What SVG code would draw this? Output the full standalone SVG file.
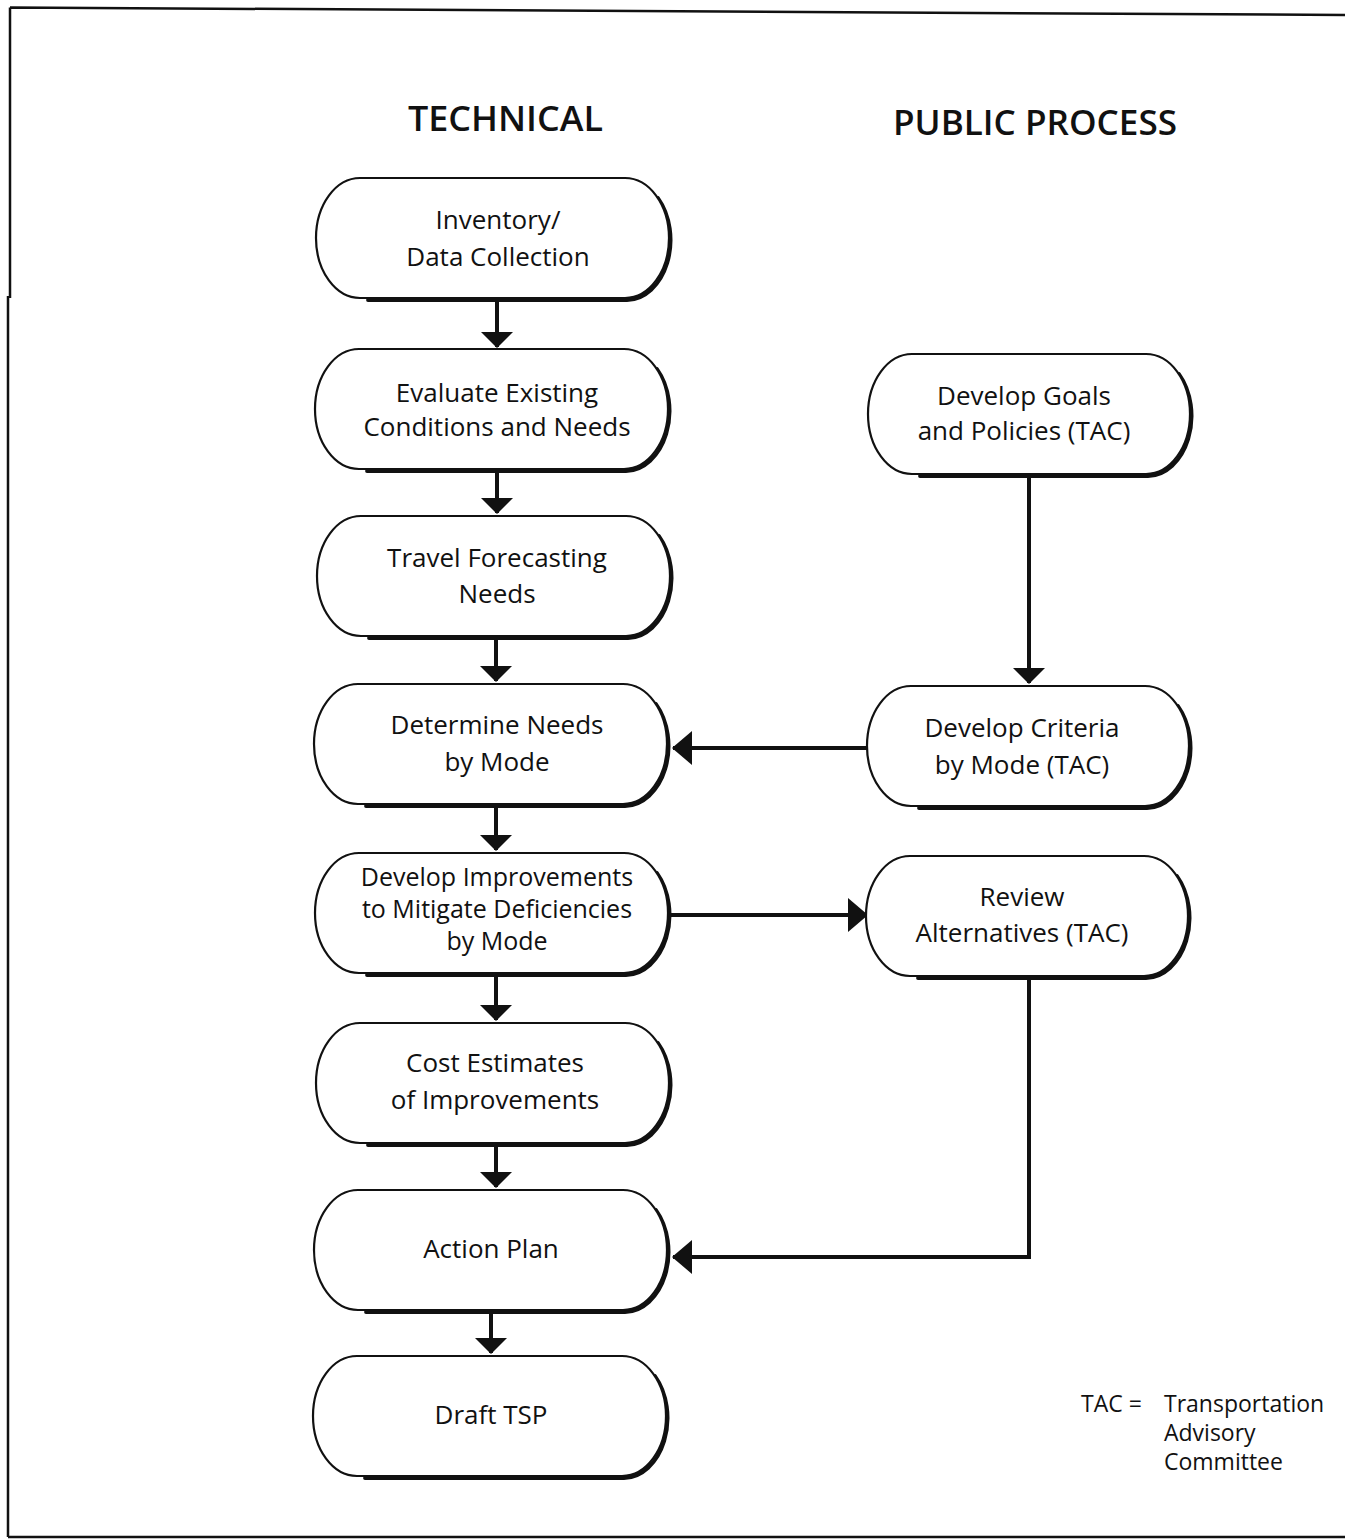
<svg xmlns="http://www.w3.org/2000/svg" xmlns:xlink="http://www.w3.org/1999/xlink" width="1345" height="1539" viewBox="0 0 1345 1539">
<style>
.bg{fill:#fff}
.frame{fill:none;stroke:#111;stroke-width:2.5}
.outline{fill:#fff;stroke:#111;stroke-width:2.2}
.shadow{fill:none;stroke:#111;stroke-width:3.8;stroke-linecap:round}
.t{font-family:"Open Sans","Liberation Sans",sans-serif;font-size:26px;text-anchor:middle;fill:#111}
.t3{font-size:25px}
.h{font-family:"Open Sans","Liberation Sans",sans-serif;font-size:34px;font-weight:600;text-anchor:middle;fill:#111}
.leg{font-family:"Open Sans","Liberation Sans",sans-serif;font-size:23px;fill:#111}
.conn{fill:none;stroke:#111;stroke-width:4}
</style>
<defs>
<path id="pillT" d="M44,0 H309 A44,60 0 0 1 309,120 H44 A44,60 0 0 1 44,0 Z"/>
<path id="shadT" d="M340,18 A44,60 0 0 1 309,120 H50"/>
<path id="pillP" d="M44,0 H278 A44,60 0 0 1 278,120 H44 A44,60 0 0 1 44,0 Z"/>
<path id="shadP" d="M309,18 A44,60 0 0 1 278,120 H50"/>
<marker id="arrV" viewBox="0 0 16 32" markerWidth="16" markerHeight="32" refX="15" refY="16" orient="auto" markerUnits="userSpaceOnUse">
<path d="M0,0 L16,16 L0,32 Z" fill="#111"/>
</marker>
<marker id="arrH" viewBox="0 0 20 34" markerWidth="20" markerHeight="34" refX="19" refY="17" orient="auto" markerUnits="userSpaceOnUse">
<path d="M0,0 L20,17 L0,34 Z" fill="#111"/>
</marker>
</defs>
<rect class="bg" x="0" y="0" width="1345" height="1539"/>
<g id="frame">
<path class="frame" d="M10,7.5 L1345,15 M10,7.5 V298 M8,296 V1537 M8,1537 H1345"/>
</g>
<g id="headings">
<text class="h" x="505.5" y="131" textLength="195" lengthAdjust="spacingAndGlyphs">TECHNICAL</text>
<text class="h" x="1035" y="135" textLength="284" lengthAdjust="spacingAndGlyphs">PUBLIC PROCESS</text>
</g>
<g id="connectors">
<line class="conn" x1="497" y1="300" x2="497" y2="347" marker-end="url(#arrV)"/>
<line class="conn" x1="497" y1="470" x2="497" y2="513" marker-end="url(#arrV)"/>
<line class="conn" x1="496" y1="638" x2="496" y2="681" marker-end="url(#arrV)"/>
<line class="conn" x1="496" y1="806" x2="496" y2="850" marker-end="url(#arrV)"/>
<line class="conn" x1="496" y1="975" x2="496" y2="1020" marker-end="url(#arrV)"/>
<line class="conn" x1="496" y1="1145" x2="496" y2="1187" marker-end="url(#arrV)"/>
<line class="conn" x1="491" y1="1312" x2="491" y2="1353" marker-end="url(#arrV)"/>
<line class="conn" x1="1029" y1="476" x2="1029" y2="683" marker-end="url(#arrV)"/>
<line class="conn" x1="868" y1="748" x2="673" y2="748" marker-end="url(#arrH)"/>
<line class="conn" x1="668" y1="915" x2="867" y2="915" marker-end="url(#arrH)"/>
<path class="conn" d="M1029,976 V1257 H673" marker-end="url(#arrH)"/>
</g>
<g id="n1" transform="translate(316,178)">
<use href="#shadT" class="shadow" transform="translate(2,2)"/>
<use href="#pillT" class="outline"/>
<text class="t" x="182" y="51">Inventory/</text>
<text class="t" x="182" y="88">Data Collection</text>
</g>
<g id="n2" transform="translate(315,349)">
<use href="#shadT" class="shadow" transform="translate(2,2)"/>
<use href="#pillT" class="outline"/>
<text class="t" x="182" y="53">Evaluate Existing</text>
<text class="t" x="182" y="87">Conditions and Needs</text>
</g>
<g id="n3" transform="translate(317,516)">
<use href="#shadT" class="shadow" transform="translate(2,2)"/>
<use href="#pillT" class="outline"/>
<text class="t" x="180" y="51">Travel Forecasting</text>
<text class="t" x="180" y="87">Needs</text>
</g>
<g id="n4" transform="translate(314,684)">
<use href="#shadT" class="shadow" transform="translate(2,2)"/>
<use href="#pillT" class="outline"/>
<text class="t" x="183" y="50">Determine Needs</text>
<text class="t" x="183" y="87">by Mode</text>
</g>
<g id="n5" transform="translate(315,853)">
<use href="#shadT" class="shadow" transform="translate(2,2)"/>
<use href="#pillT" class="outline"/>
<text class="t t3" x="182" y="33">Develop Improvements</text>
<text class="t t3" x="182" y="65">to Mitigate Deficiencies</text>
<text class="t t3" x="182" y="97">by Mode</text>
</g>
<g id="n6" transform="translate(316,1023)">
<use href="#shadT" class="shadow" transform="translate(2,2)"/>
<use href="#pillT" class="outline"/>
<text class="t" x="179" y="49">Cost Estimates</text>
<text class="t" x="179" y="86">of Improvements</text>
</g>
<g id="n7" transform="translate(314,1190)">
<use href="#shadT" class="shadow" transform="translate(2,2)"/>
<use href="#pillT" class="outline"/>
<text class="t" x="177" y="68">Action Plan</text>
</g>
<g id="n8" transform="translate(313,1356)">
<use href="#shadT" class="shadow" transform="translate(2,2)"/>
<use href="#pillT" class="outline"/>
<text class="t" x="178" y="68">Draft TSP</text>
</g>
<g id="pA" transform="translate(868,354)">
<use href="#shadP" class="shadow" transform="translate(2,2)"/>
<use href="#pillP" class="outline"/>
<text class="t" x="156" y="51">Develop Goals</text>
<text class="t" x="156" y="86">and Policies (TAC)</text>
</g>
<g id="pB" transform="translate(867,686)">
<use href="#shadP" class="shadow" transform="translate(2,2)"/>
<use href="#pillP" class="outline"/>
<text class="t" x="155" y="51">Develop Criteria</text>
<text class="t" x="155" y="88">by Mode (TAC)</text>
</g>
<g id="pC" transform="translate(866,856)">
<use href="#shadP" class="shadow" transform="translate(2,2)"/>
<use href="#pillP" class="outline"/>
<text class="t" x="156" y="50">Review</text>
<text class="t" x="156" y="86">Alternatives (TAC)</text>
</g>
<g id="legend">
<text class="leg" x="1081" y="1412">TAC =</text>
<text class="leg" x="1164" y="1412">Transportation</text>
<text class="leg" x="1164" y="1441">Advisory</text>
<text class="leg" x="1164" y="1470">Committee</text>
</g>
</svg>
